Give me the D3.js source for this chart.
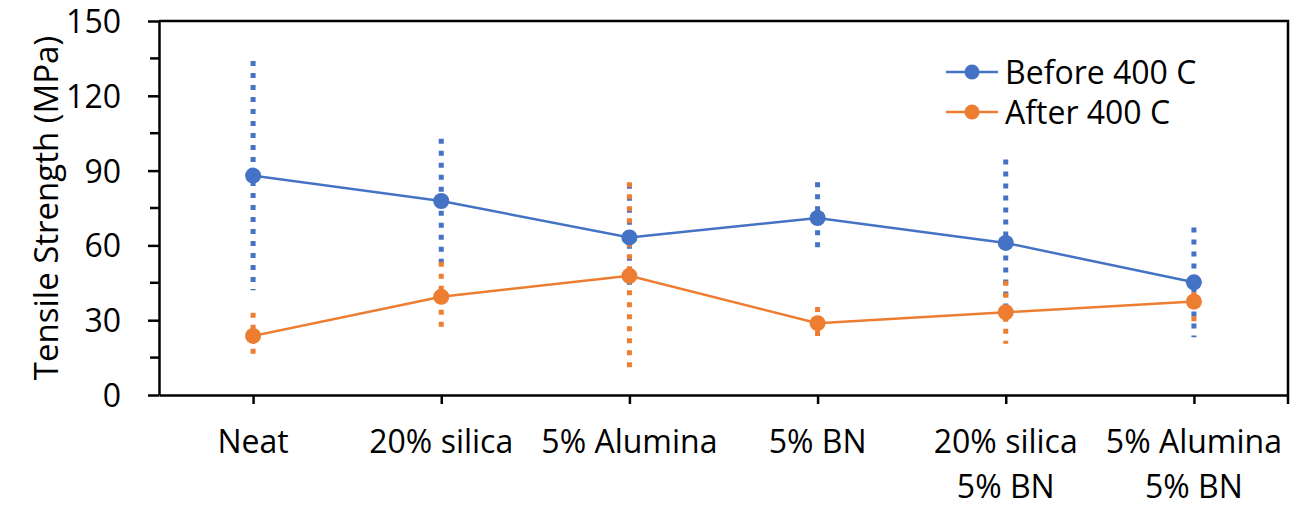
<!DOCTYPE html>
<html lang="en">
<head>
    <meta charset="UTF-8">
    <title>Tensile Strength</title>
    <script src="https://d3js.org/d3.v7.min.js"></script>
    <style>
        body { margin: 0; background: #fff; }
        svg { font-family: "Open Sans", sans-serif; }
        .axis line, .axis path { stroke: #000; stroke-width: 2.5; }
        .line { fill: none; stroke-width: 2.5; }
    </style>
</head>
<body>
    <svg width="1314" height="507"></svg>
    <script>
        // Data for the plot
        const categories = [["Neat"], ["20% silica"], ["5% Alumina"], ["5% BN"], ["20% silica", "5% BN"], ["5% Alumina", "5% BN"]];
        const before = [88, 77.8, 63.2, 71, 61, 45.2];
        const beforeErr = [46, 25, 21.5, 14.3, 33.5, 22];
        const after = [23.7, 39.4, 47.8, 28.8, 33.2, 37.5];
        const afterErr = [9.3, 14, 37.5, 6.5, 12.6, 8.5];
        const yTicks = [0, 30, 60, 90, 120, 150];
        const yMinor = [15, 45, 75, 105, 135];
        const seriesNames = ["Before 400 C", "After 400 C"];
        const colors = ["#4472C4", "#ED7D31"];

        const fontSize = "32px";
        const svg = d3.select("svg");
        const margin = { top: 21, right: 26, bottom: 112, left: 159 };
        const width = +svg.attr("width") - margin.left - margin.right;
        const height = +svg.attr("height") - margin.top - margin.bottom;

        const g = svg.append("g")
            .attr("transform", `translate(${margin.left},${margin.top})`);

        // Scales
        const x = d3.scalePoint()
            .domain(d3.range(categories.length))
            .range([0, width])
            .padding(0.5);

        const y = d3.scaleLinear()
            .domain([0, 150])
            .range([height, 0]);

        // Y axis with major and minor ticks
        const yAxis = g.append("g")
            .attr("class", "axis")
            .call(d3.axisLeft(y).tickValues(yTicks).tickSize(11).tickSizeOuter(0).tickPadding(27));
        yAxis.selectAll("text")
            .attr("font-size", fontSize)
            .attr("font-family", "'Open Sans', sans-serif")
            .attr("fill", "#000")
            .attr("dy", "0.36em");

        g.append("g")
            .attr("class", "axis")
            .selectAll("line")
            .data(yMinor)
            .join("line")
            .attr("x1", -9)
            .attr("x2", 0)
            .attr("y1", d => y(d))
            .attr("y2", d => y(d));

        // X axis, ticks at category centres
        g.append("g")
            .attr("class", "axis")
            .attr("transform", `translate(0,${height})`)
            .call(d3.axisBottom(x).tickSize(9).tickSizeOuter(0).tickFormat(""));

        // top and right border
        g.append("path")
            .attr("fill", "none")
            .attr("stroke", "#000")
            .attr("stroke-width", 2.5)
            .attr("d", `M0,0H${width}V${height + 9}`);

        // category labels (two lines where needed)
        const labels = g.append("g")
            .selectAll("text")
            .data(categories)
            .join("text")
            .attr("x", (d, i) => x(i))
            .attr("y", height + 58)
            .attr("text-anchor", "middle")
            .attr("font-size", fontSize)
            .attr("fill", "#000");
        labels.selectAll("tspan")
            .data(d => d)
            .join("tspan")
            .attr("x", function () { return d3.select(this.parentNode).attr("x"); })
            .attr("dy", (d, i) => i === 0 ? 0 : 45)
            .text(d => d);

        // Y axis title
        svg.append("text")
            .attr("transform", "rotate(-90)")
            .attr("x", -(margin.top + height / 2))
            .attr("y", 58)
            .attr("text-anchor", "middle")
            .attr("font-size", "33px")
            .attr("fill", "#000")
            .text("Tensile Strength (MPa)");

        // Error bars
        const series = [
            { vals: before, err: beforeErr },
            { vals: after, err: afterErr }
        ];
        series.forEach((s, k) => {
            g.append("g")
                .selectAll("line")
                .data(s.vals)
                .join("line")
                .attr("x1", (d, i) => x(i))
                .attr("x2", (d, i) => x(i))
                .attr("y1", (d, i) => y(d + s.err[i]))
                .attr("y2", (d, i) => y(d - s.err[i]))
                .attr("stroke", colors[k])
                .attr("stroke-width", 5)
                .attr("stroke-dasharray", "5,7");
        });

        // Lines and markers
        const line = d3.line()
            .x((d, i) => x(i))
            .y(d => y(d));

        series.forEach((s, k) => {
            g.append("path")
                .datum(s.vals)
                .attr("class", "line")
                .attr("stroke", colors[k])
                .attr("d", line);
        });
        series.forEach((s, k) => {
            g.append("g")
                .selectAll("circle")
                .data(s.vals)
                .join("circle")
                .attr("cx", (d, i) => x(i))
                .attr("cy", d => y(d))
                .attr("r", 8)
                .attr("fill", colors[k]);
        });

        // Legend
        const legend = svg.append("g")
            .attr("transform", "translate(946,72)");
        seriesNames.forEach((name, k) => {
            const row = legend.append("g").attr("transform", `translate(0,${k * 40})`);
            row.append("line")
                .attr("x1", 0).attr("x2", 52)
                .attr("stroke", colors[k])
                .attr("stroke-width", 2.5);
            row.append("circle")
                .attr("cx", 26)
                .attr("r", 7.5)
                .attr("fill", colors[k]);
            row.append("text")
                .attr("x", 59)
                .attr("dy", "0.36em")
                .attr("font-size", fontSize)
                .attr("fill", "#000")
                .text(name);
        });
    </script>
</body>
</html>
